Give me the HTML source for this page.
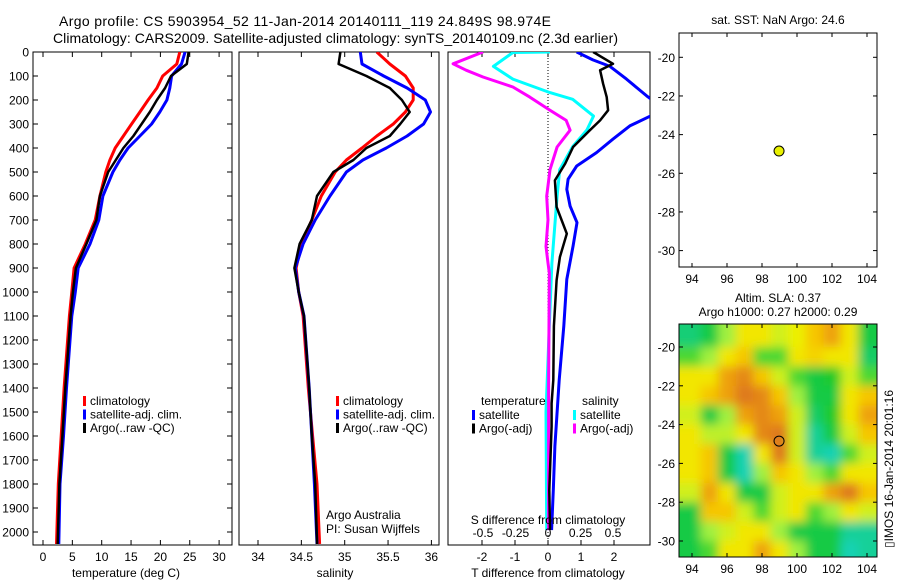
<!DOCTYPE html>
<html><head><meta charset="utf-8"><style>
html,body{margin:0;padding:0;background:#fff;}
svg{display:block;font-family:"Liberation Sans",sans-serif;}
</style></head><body>
<svg id="c" width="900" height="580" viewBox="0 0 900 580">
<defs>
<clipPath id="cp1"><rect x="33" y="52" width="199" height="493"/></clipPath>
<clipPath id="cp2"><rect x="239" y="52" width="200" height="493"/></clipPath>
<clipPath id="cp3"><rect x="448" y="52" width="202" height="493"/></clipPath>
<clipPath id="cpm"><rect x="679" y="324" width="198" height="233"/></clipPath>
<filter id="bl" x="-10%" y="-10%" width="120%" height="120%"><feGaussianBlur stdDeviation="5"/></filter>
</defs>
<text x="59" y="26" font-size="14" textLength="492">Argo profile: CS 5903954_52 11-Jan-2014 20140111_119 24.849S 98.974E</text>
<text x="53" y="43" font-size="14" textLength="565">Climatology: CARS2009. Satellite-adjusted climatology: synTS_20140109.nc (2.3d earlier)</text>
<g id="g1"></g>
<g id="g2"></g>
<g id="g3"></g>
<g id="g4"></g>
<g id="g5"></g>
</svg>
<script>
const depths=[0,50,100,150,200,250,300,350,400,450,500,600,700,800,900,1000,1100,1400,1600,1800,2050];
const tempClim=[23.3,22.8,20.4,19.4,17.9,16.5,15.1,13.7,12.3,11.4,10.7,9.7,8.9,7.2,5.3,4.9,4.5,3.6,3.1,2.6,2.3];
const tempSat=[24.2,23.6,21.9,21.6,21.1,19.9,18.5,16.5,14.5,13.1,11.9,10.2,9.5,8.0,6.0,5.5,4.9,4.0,3.5,2.9,2.7];
const tempArgo=[24.8,24.5,21.8,20.8,19.4,18.2,16.8,15.4,13.7,12.4,11.1,9.7,9.1,7.4,5.6,5.1,4.7,3.8,3.3,2.8,2.5];
const salClim=[35.37,35.52,35.70,35.79,35.79,35.70,35.56,35.37,35.20,35.02,34.89,34.73,34.62,34.50,34.44,34.47,34.52,34.58,34.63,34.68,34.71];
const salSat=[35.18,35.20,35.45,35.72,35.93,35.99,35.91,35.72,35.48,35.21,35.02,34.83,34.66,34.52,34.43,34.47,34.53,34.59,34.62,34.65,34.68];
const salArgo=[34.95,34.93,35.25,35.52,35.66,35.75,35.64,35.52,35.25,35.10,34.87,34.68,34.62,34.48,34.42,34.47,34.53,34.59,34.62,34.66,34.68];
const diffDepths=[0,33,60,113,183,225,267,308,363,419,475,530,572,642,711,808,947,1142,1367,1642,1825,1992];
const dTSat=[0.87,1.36,1.88,2.38,2.99,3.4,3.1,2.48,1.97,1.47,0.87,0.61,0.57,0.67,0.88,0.76,0.57,0.48,0.34,0.21,0.16,0.11];
const dArgoDepths=[0,49,76,132,188,243,285,326,396,465,535,646,757,854,951,1142,1367,1464,1560,1825,1992];
const dTArgo=[1.37,1.97,1.58,1.67,1.78,1.82,1.58,1.27,0.76,0.52,0.21,0.26,0.57,0.36,0.26,0.18,0.16,0.11,0.11,0.04,0.06];
const sSatDepths=[0,2,33,60,113,169,197,267,324,394,490,601,740,879,1142,1500,1992];
const dSSat=[0.015,-0.27,-0.35,-0.42,-0.27,0.015,0.19,0.35,0.30,0.19,0.09,0.07,0.05,0.03,0.01,-0.015,-0.01];
const sArgoDepths=[0,49,76,104,146,188,243,285,326,396,490,601,699,810,879,921,1400,1992];
const dSArgo=[-0.5,-0.73,-0.63,-0.5,-0.27,-0.14,0.015,0.14,0.17,0.07,0.015,-0.01,0.0,-0.015,0.0,0.01,0.005,0.005];
const depthTicks=[0,100,200,300,400,500,600,700,800,900,1000,1100,1200,1300,1400,1500,1600,1700,1800,1900,2000];
const tTicks=[0,5,10,15,20,25,30];
const sTicks=[34,34.5,35,35.5,36];
const dTTicks=[-2,-1,0,1,2];
const dSTicks=[-0.5,-0.25,0,0.25,0.5];
const lonTicks=[94,96,98,100,102,104];
const latTicks=[-20,-22,-24,-26,-28,-30];
const floatLon=98.974, floatLat=-24.849;
const slaLats=[-19.5,-20.5,-21.5,-22.5,-23.5,-24.5,-25.5,-26.5,-27.5,-28.5,-29.5,-30.5];
const slaLons=[94,95,96,97,98,99,100,101,102,103,104];
const slaGrid=[
[-1.3,-1,0,1,1,0.5,0.8,1.5,2,1,-1],
[-0.5,0,1,1.5,-0.5,-0.5,1,1.3,1,1,-1.2],
[1,1,2,2.3,1.5,0.5,-0.5,-1,-0.8,0.5,-0.5],
[1,1.5,2,2.8,2.3,1.5,0,-1,-1,1,1.5],
[0.5,-1,0,2,2.3,2,0.5,-1.2,-0.8,1,2],
[1,0.3,0.3,1,2.3,2.5,0.5,-1.5,-1,0.5,1.5],
[1,1.5,-1,-1.7,1,2.8,0.5,-1.5,-1.8,-0.5,0.5],
[1,1.5,-1,-1.8,0,1.5,1,0,-0.5,1,1],
[0.5,2,1,-1,-1,0.5,1,1,2,2.8,1.5],
[-1,1.5,1.5,0.5,-0.5,0.5,1,-0.5,0,1,0.5],
[-1,0,0.5,1,1,0,-1,-1,-1,-1.5,-1.5],
[-1,-0.5,1,1,2,1,0,-1,-1,-2,-1.5]];

const NS='http://www.w3.org/2000/svg';
function mk(tag,attrs,parent,txt){const e=document.createElementNS(NS,tag);for(const k in attrs)e.setAttribute(k,attrs[k]);if(txt!==undefined)e.textContent=txt;parent.appendChild(e);return e;}
const yD=d=>52+d*0.24;
const xT=t=>43+t*5.87;
const xS=s=>258+(s-34)*86.7;
const xdT=t=>548+t*33;
const xdS=s=>548+s*130;
const xLon=l=>692+(l-94)*17.5;
const yLat1=l=>57.3+(-20-l)*19.33;
const yLat2=l=>347+(-20-l)*19.4;

function line(parent,xs,ds,fx,col,w,clip,name){
  const pts=xs.map((v,i)=>fx(v).toFixed(1)+','+yD(ds[i]).toFixed(1)).join(' ');
  const p=mk('polyline',{points:pts,fill:'none',stroke:col,'stroke-width':w,'stroke-linejoin':'round','clip-path':'url(#'+clip+')'},parent);
  
  
}
function frame(parent,x,y,w,h,name){
  const r=mk('rect',{x:x,y:y,width:w,height:h,fill:'none',stroke:'#000','stroke-width':1},parent);
  
  
}
function txt(parent,x,y,s,size,anchor,name){
  const t=mk('text',{x:x,y:y,'font-size':size,'text-anchor':anchor||'start'},parent,s);
  
  
  return t;
}
function legend(parent,x,y,items,name){
  items.forEach((it,i)=>{
    mk('rect',{x:x,y:y+i*13.5-9,width:3,height:10,fill:it[0]},parent);
    txt(parent,x+7,y+i*13.5,it[1],12,'start',name+'-entry');
  });
}
const g1=document.getElementById('g1');
frame(g1,33,52,199,493,'temperature-axes-frame');
depthTicks.forEach(d=>{
  mk('line',{x1:33,y1:yD(d),x2:38,y2:yD(d),stroke:'#000'},g1);
  mk('line',{x1:232,y1:yD(d),x2:227,y2:yD(d),stroke:'#000'},g1);
  txt(g1,29,yD(d)+4.5,String(d),12,'end','depth-tick-label');
});
tTicks.forEach(t=>{
  mk('line',{x1:xT(t),y1:545,x2:xT(t),y2:540,stroke:'#000'},g1);
  mk('line',{x1:xT(t),y1:52,x2:xT(t),y2:57,stroke:'#000'},g1);
  txt(g1,xT(t),561,String(t),12,'middle','temperature-tick-label');
});
txt(g1,126,577,'temperature (deg C)',12,'middle','x-axis-title-temperature');
line(g1,tempClim,depths,xT,'#ff0000',3,'cp1','temperature-climatology-line');
line(g1,tempSat,depths,xT,'#0000ff',3,'cp1','temperature-satellite-line');
line(g1,tempArgo,depths,xT,'#000',2.5,'cp1','temperature-argo-line');
legend(g1,83,405,[['#ff0000','climatology'],['#0000ff','satellite-adj. clim.'],['#000','Argo(..raw -QC)']],'temperature-legend');
const g2=document.getElementById('g2');
frame(g2,239,52,200,493,'salinity-axes-frame');
sTicks.forEach(s=>{
  mk('line',{x1:xS(s),y1:545,x2:xS(s),y2:540,stroke:'#000'},g2);
  mk('line',{x1:xS(s),y1:52,x2:xS(s),y2:57,stroke:'#000'},g2);
  txt(g2,xS(s),561,String(s),12,'middle','salinity-tick-label');
});
txt(g2,335,577,'salinity',12,'middle','x-axis-title-salinity');
line(g2,salClim,depths,xS,'#ff0000',3,'cp2','salinity-climatology-line');
line(g2,salSat,depths,xS,'#0000ff',3,'cp2','salinity-satellite-line');
line(g2,salArgo,depths,xS,'#000',2.5,'cp2','salinity-argo-line');
legend(g2,336,405,[['#ff0000','climatology'],['#0000ff','satellite-adj. clim.'],['#000','Argo(..raw -QC)']],'salinity-legend');
txt(g2,326,519,'Argo Australia',12,'start','credit-argo-australia');
txt(g2,326,533,'PI: Susan Wijffels',12,'start','credit-pi');
const g3=document.getElementById('g3');
frame(g3,448,52,202,493,'difference-axes-frame');
mk('line',{x1:548,y1:52,x2:548,y2:545,stroke:'#000','stroke-dasharray':'1,2'},g3);
dTTicks.forEach(t=>{
  mk('line',{x1:xdT(t),y1:545,x2:xdT(t),y2:540,stroke:'#000'},g3);
  mk('line',{x1:xdT(t),y1:52,x2:xdT(t),y2:57,stroke:'#000'},g3);
  txt(g3,xdT(t),561,String(t),12,'middle','t-diff-tick-label');
});
line(g3,dTSat,diffDepths,xdT,'#0000ff',3,'cp3','t-diff-satellite-line');
line(g3,dSSat,sSatDepths,xdS,'#00ffff',3,'cp3','s-diff-satellite-line');
line(g3,dSArgo,sArgoDepths,xdS,'#ff00ff',3,'cp3','s-diff-argo-line');
line(g3,dTArgo,dArgoDepths,xdT,'#000',2.5,'cp3','t-diff-argo-line');
dSTicks.forEach(s=>{
  txt(g3,xdS(s),537,String(s),12,'middle','s-diff-tick-label');
});
txt(g3,548,524,'S difference from climatology',12,'middle','s-diff-axis-title');
txt(g3,548,577,'T difference from climatology',12,'middle','t-diff-axis-title');
txt(g3,481,405,'temperature',12,'start','legend-temperature-header');
txt(g3,582,405,'salinity',12,'start','legend-salinity-header');
legend(g3,472,419,[['#0000ff','satellite'],['#000','Argo(-adj)']],'t-diff-legend');
legend(g3,573,419,[['#00ffff','satellite'],['#ff00ff','Argo(-adj)']],'s-diff-legend');
function mapAxes(g,top,bot,yLat,name){
  frame(g,679,top,198,bot-top,name+'-frame');
  lonTicks.forEach(l=>{
    mk('line',{x1:xLon(l),y1:bot,x2:xLon(l),y2:bot-4,stroke:'#000'},g);
    mk('line',{x1:xLon(l),y1:top,x2:xLon(l),y2:top+4,stroke:'#000'},g);
    txt(g,xLon(l),bot+16,String(l),12,'middle',name+'-lon-tick-label');
  });
  latTicks.forEach(l=>{
    mk('line',{x1:679,y1:yLat(l),x2:683,y2:yLat(l),stroke:'#000'},g);
    mk('line',{x1:877,y1:yLat(l),x2:873,y2:yLat(l),stroke:'#000'},g);
    txt(g,675,yLat(l)+4.5,String(l),12,'end',name+'-lat-tick-label');
  });
}
const g4=document.getElementById('g4');
mapAxes(g4,33,267,yLat1,'sst-map');
txt(g4,778,24,'sat. SST: NaN Argo: 24.6',12,'middle','sst-map-title');
const d1=mk('circle',{cx:xLon(floatLon),cy:yLat1(floatLat),r:5,fill:'#e8f000',stroke:'#000','stroke-width':1},g4);


const g5=document.getElementById('g5');
const stops=[[-2,[24,210,180]],[-1,[20,200,40]],[0,[160,240,64]],[1,[240,240,0]],[2,[248,188,0]],[3,[222,120,28]]];
function col(v){
  v=Math.max(-2,Math.min(3,v*1.2));
  for(let i=0;i<stops.length-1;i++){
    if(v<=stops[i+1][0]){const f=(v-stops[i][0]);const a=stops[i][1],b=stops[i+1][1];
      return 'rgb('+a.map((c,k)=>Math.round(c+(b[k]-c)*f)).join(',')+')';}
  }
  return 'rgb(222,120,28)';
}
const hm=mk('g',{'clip-path':'url(#cpm)'},g5);
const hmi=mk('g',{filter:'url(#bl)'},hm);
slaGrid.forEach((row,r)=>row.forEach((v,c)=>{
  let x0=xLon(slaLons[c]-0.5),x1=xLon(slaLons[c]+0.5);
  let y0=yLat2(slaLats[r]+0.5),y1=yLat2(slaLats[r]-0.5);
  if(c===0)x0-=20; if(c===row.length-1)x1+=20;
  if(r===0)y0-=20; if(r===slaGrid.length-1)y1+=20;
  const cell=mk('rect',{x:x0,y:y0,width:x1-x0+0.5,height:y1-y0+0.5,fill:col(v)},hmi);
  
  
}));
mapAxes(g5,324,557,yLat2,'sla-map');
txt(g5,778,302,'Altim. SLA: 0.37',12,'middle','sla-map-title-1');
txt(g5,778,316,'Argo h1000: 0.27 h2000: 0.29',12,'middle','sla-map-title-2');
const d2=mk('circle',{cx:xLon(floatLon),cy:yLat2(floatLat),r:5,fill:'none',stroke:'#000','stroke-width':1},g5);


const st=mk('text',{x:893,y:548,'font-size':12,transform:'rotate(-90 893 548)'},g5,'\u25AFIMOS 16-Jan-2014 20:01:16');


</script>
</body></html>
